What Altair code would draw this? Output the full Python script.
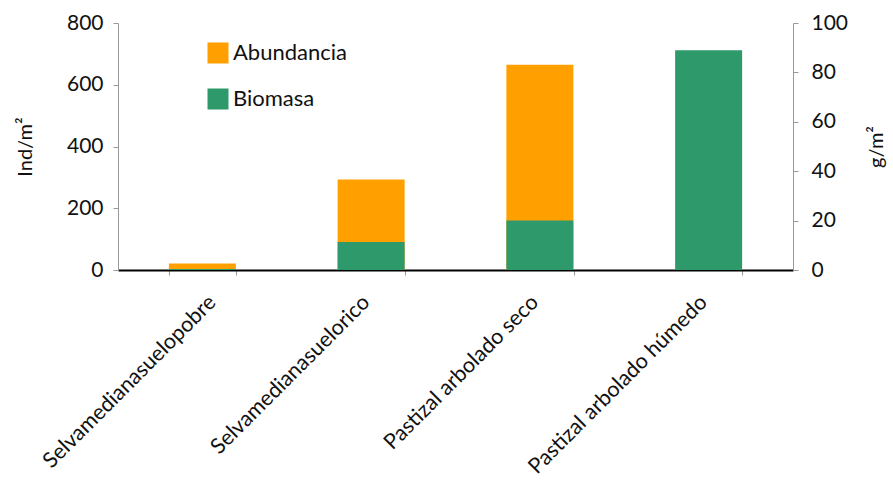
import altair as alt
import pandas as pd

categories = ["Selvamedianasuelopobre", "Selvamedianasuelorico",
              "Pastizal arbolado seco", "Pastizal arbolado húmedo"]
abundancia = [21, 293, 665, 0]      # Ind/m2
biomasa = [0.4, 11.3, 20.0, 89.0]   # g/m2

df = pd.DataFrame({"cat": categories, "abundancia": abundancia, "biomasa": biomasa})

FONT = "Lato"
ORANGE = "#FFA000"
GREEN = "#2E9A6B"

color_scale = alt.Scale(domain=["Abundancia", "Biomasa"], range=[ORANGE, GREEN])

x = alt.X("cat:N", sort=categories, title=None,
          scale=alt.Scale(paddingInner=0.6, paddingOuter=0.3),
          axis=alt.Axis(labelAngle=-45, labelFontSize=21.5, labelFont=FONT,
                        labelColor="#111", domainColor="#000", domainWidth=2,
                        tickBand="extent", tickColor="#999", tickSize=5,
                        labelPadding=24, labelLimit=0, labelAlign="right",
                        labelBaseline="middle",
                        labelOffset={"condition": {"test": "datum.value == 'Selvamedianasuelopobre'",
                                                   "value": 10},
                                     "value": -5}))

bars_a = alt.Chart(df).mark_bar(size=67).encode(
    x=x,
    y=alt.Y("abundancia:Q", title="Ind/m²",
            scale=alt.Scale(domain=[0, 800]),
            axis=alt.Axis(values=[0, 200, 400, 600, 800], grid=False,
                          labelFontSize=21, labelFont=FONT, labelColor="#111",
                          titleFontSize=20, titleFont=FONT, titleFontWeight="normal",
                          titleColor="#111", titlePadding=31,
                          domainColor="#999", tickColor="#999", tickSize=5,
                          labelPadding=10)),
    color=alt.Color("s:N", scale=color_scale,
                    legend=alt.Legend(title=None, orient="none", legendX=89, legendY=19,
                                      symbolType="square", symbolSize=441,
                                      symbolStrokeWidth=0, labelFontSize=22,
                                      labelFont=FONT, labelColor="#111",
                                      rowPadding=24, labelOffset=4, padding=0)),
).transform_calculate(s="'Abundancia'")

bars_b = alt.Chart(df).mark_bar(size=67).encode(
    x=x,
    y=alt.Y("biomasa:Q", title="g/m²",
            scale=alt.Scale(domain=[0, 100]),
            axis=alt.Axis(orient="right", values=[0, 20, 40, 60, 80, 100], grid=False,
                          labelFontSize=21, labelFont=FONT, labelColor="#111",
                          titleFontSize=20, titleFont=FONT, titleFontWeight="normal",
                          titleColor="#111", titlePadding=39, titleAngle=270,
                          domainColor="#999", tickColor="#999", tickSize=5,
                          labelPadding=13)),
    color=alt.Color("s:N", scale=color_scale),
).transform_calculate(s="'Biomasa'")

chart = alt.layer(bars_a, bars_b).resolve_scale(y="independent").properties(
    width=675, height=247,
    autosize=alt.AutoSizeParams(type="none"),
    padding={"left": 118, "top": 23, "right": 100, "bottom": 213},
    background="white",
).configure_view(stroke=None)

chart.save("out.html", embed_options={"renderer": "svg", "actions": False})
